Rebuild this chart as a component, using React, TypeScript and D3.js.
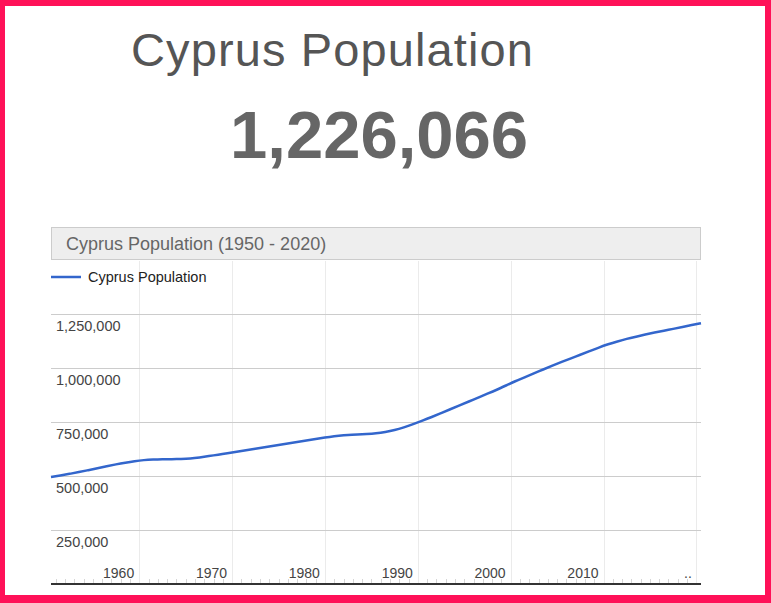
import { useEffect, useRef } from 'react';
import * as d3 from 'd3';

const title = 'Cyprus Population';
const currentValue = '1,226,066';
const chartTitle = 'Cyprus Population (1950 - 2020)';
const seriesName = 'Cyprus Population';

const years = d3.range(1950, 2021);
// population, one value per year 1950..2020
const population = [
  495000, 502000, 510000, 518000, 527000, 536000, 545000, 554000, 562000, 569000,
  574000, 576000, 577000, 578000, 579000, 581000, 586000, 592000, 599000, 605000,
  612000, 619000, 626000, 633000, 640000, 647000, 654000, 661000, 668000, 675000,
  681000, 686000, 690000, 692000, 694000, 697000, 703000, 712000, 725000, 740000,
  756000, 773000, 791000, 809000, 827000, 845000, 863000, 881000, 899000, 919000,
  939000, 957000, 975000, 993000, 1011000, 1028000, 1045000, 1061000, 1078000, 1095000,
  1110000, 1123000, 1135000, 1145000, 1155000, 1164000, 1173000, 1181000, 1190000, 1199000,
  1207000,
];
const yTicks = [250000, 500000, 750000, 1000000, 1250000];
const decadeLabels = [1960, 1970, 1980, 1990, 2000, 2010];
const gridDecades = [1960, 1970, 1980, 1990, 2000, 2010, 2020];

const W = 771;
const H = 603;
const FONT = '"Liberation Sans", Arial, sans-serif';

export default function App() {
  const ref = useRef<SVGSVGElement | null>(null);

  useEffect(() => {
    if (!ref.current) return;
    const root = d3.select(ref.current);
    root.selectAll('*').remove();

    const left = 51;
    const right = 701;
    const top = 260;
    const bottom = 584;

    // data points sit at mid-year, gridlines at 1 January
    const x = d3.scaleLinear().domain([1950, 2020]).range([left, right]);
    const y = d3.scaleLinear().domain([0, 1500000]).range([bottom, top]);
    const jan = (yr: number) => x(yr - 0.5);

    root.append('rect').attr('width', W).attr('height', H).attr('fill', '#fff');

    // big heading
    root
      .append('text')
      .attr('x', 131)
      .attr('y', 66)
      .attr('font-family', FONT)
      .attr('font-size', 47)
      .attr('fill', '#555')
      .attr('textLength', 402)
      .attr('lengthAdjust', 'spacing')
      .text(title);

    root
      .append('text')
      .attr('x', 230)
      .attr('y', 158)
      .attr('font-family', FONT)
      .attr('font-size', 67)
      .attr('font-weight', 'bold')
      .attr('fill', '#666')
      .text(currentValue);

    // chart header box
    root
      .append('rect')
      .attr('x', left + 0.5)
      .attr('y', 227.5)
      .attr('width', right - left - 1)
      .attr('height', 32)
      .attr('fill', '#eee')
      .attr('stroke', '#ccc');

    root
      .append('text')
      .attr('x', 66)
      .attr('y', 250)
      .attr('font-family', FONT)
      .attr('font-size', 18)
      .attr('fill', '#666')
      .text(chartTitle);

    const g = root.append('g');

    // vertical gridlines
    g.selectAll('line.vgrid')
      .data(gridDecades)
      .join('line')
      .attr('class', 'vgrid')
      .attr('x1', d => Math.round(jan(d)) + 0.5)
      .attr('x2', d => Math.round(jan(d)) + 0.5)
      .attr('y1', top + 1)
      .attr('y2', bottom)
      .attr('stroke', '#ebebeb');

    // horizontal gridlines
    g.selectAll('line.hgrid')
      .data(yTicks)
      .join('line')
      .attr('class', 'hgrid')
      .attr('x1', left)
      .attr('x2', right)
      .attr('y1', d => Math.round(y(d)) + 0.5)
      .attr('y2', d => Math.round(y(d)) + 0.5)
      .attr('stroke', '#ccc');

    g.selectAll('text.ylab')
      .data(yTicks)
      .join('text')
      .attr('class', 'ylab')
      .attr('x', 56)
      .attr('y', d => y(d) + 17)
      .attr('font-family', FONT)
      .attr('font-size', 14.5)
      .attr('fill', '#444')
      .text(d => d3.format(',')(d));

    // minor year ticks
    const minor = years.filter(yr => yr > 1950 && yr % 10 !== 0);
    g.selectAll('line.minor')
      .data(minor)
      .join('line')
      .attr('class', 'minor')
      .attr('x1', d => Math.round(jan(d)) + 0.5)
      .attr('x2', d => Math.round(jan(d)) + 0.5)
      .attr('y1', bottom - 5)
      .attr('y2', bottom)
      .attr('stroke', '#d6d6d6');

    g.selectAll('text.xlab')
      .data(decadeLabels)
      .join('text')
      .attr('class', 'xlab')
      .attr('x', d => jan(d) - 5)
      .attr('y', 578)
      .attr('text-anchor', 'end')
      .attr('font-family', FONT)
      .attr('font-size', 14)
      .attr('fill', '#444')
      .text(d => String(d));

    g.append('text')
      .attr('x', 684)
      .attr('y', 578)
      .attr('font-family', FONT)
      .attr('font-size', 14)
      .attr('fill', '#444')
      .text('..');

    // series line
    const line = d3
      .line<number>()
      .x((_, i) => x(years[i]))
      .y(d => y(d))
      .curve(d3.curveBasis);

    g.append('path')
      .datum(population)
      .attr('fill', 'none')
      .attr('stroke', '#3366cc')
      .attr('stroke-width', 2.5)
      .attr('d', line);

    // baseline
    g.append('line')
      .attr('x1', left)
      .attr('x2', right)
      .attr('y1', bottom)
      .attr('y2', bottom)
      .attr('stroke', '#333')
      .attr('stroke-width', 2);

    // legend
    g.append('line')
      .attr('x1', left)
      .attr('x2', 81)
      .attr('y1', 277)
      .attr('y2', 277)
      .attr('stroke', '#3366cc')
      .attr('stroke-width', 2.5);

    g.append('text')
      .attr('x', 88)
      .attr('y', 282)
      .attr('font-family', FONT)
      .attr('font-size', 14.5)
      .attr('fill', '#222')
      .text(seriesName);

    // pink frame
    const frame = root.append('g').attr('fill', '#ff1158');
    frame.append('rect').attr('x', 0).attr('y', 0).attr('width', W).attr('height', 6);
    frame.append('rect').attr('x', 0).attr('y', 0).attr('width', 5).attr('height', H);
    frame.append('rect').attr('x', 765).attr('y', 0).attr('width', 6).attr('height', H);
    frame.append('rect').attr('x', 0).attr('y', 595).attr('width', W).attr('height', 8);
  }, []);

  return (
    <div style={{ position: 'absolute', left: 0, top: 0 }}>
      <svg ref={ref} width={W} height={H} style={{ display: 'block' }} />
    </div>
  );
}
